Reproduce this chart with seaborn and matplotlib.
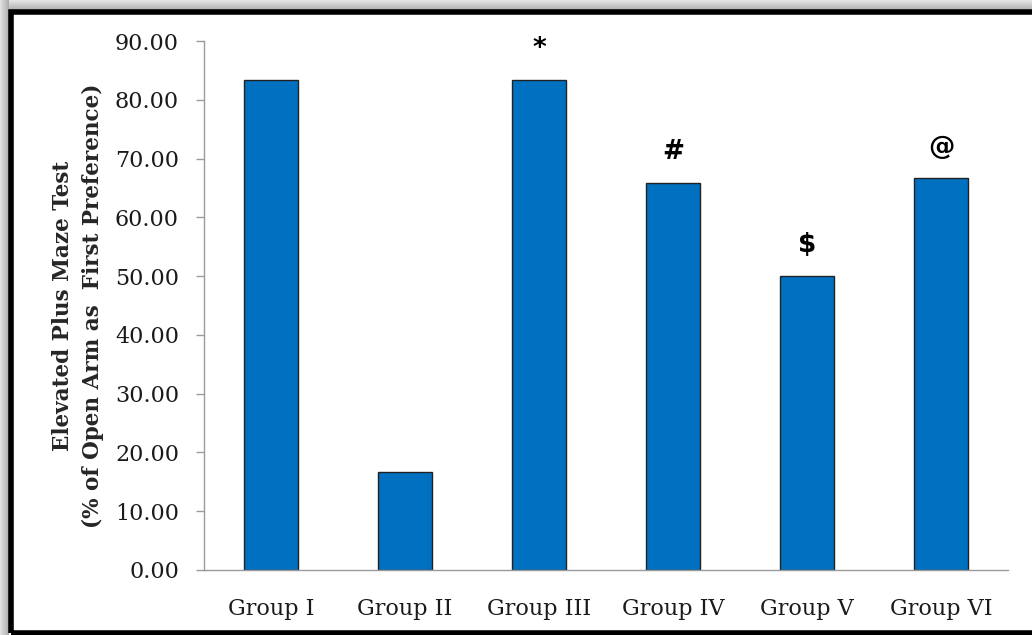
import numpy as np
import pandas as pd
import matplotlib
matplotlib.use("Agg")
import matplotlib.pyplot as plt
from matplotlib.patches import Rectangle
import seaborn as sns

# Data
groups = ["Group I", "Group II", "Group III", "Group IV", "Group V", "Group VI"]
open_arm_pct = [83.33, 16.67, 83.33, 65.83, 50.00, 66.67]
significance = ["", "", "*", "#", "$", "@"]
y_ticks = [0, 10, 20, 30, 40, 50, 60, 70, 80, 90]

df = pd.DataFrame({"group": groups, "pct": open_arm_pct})

sns.set_theme(style="white")
plt.rcParams["font.family"] = ["DejaVu Serif"]

W, H = 1032, 635
fig = plt.figure(figsize=(W / 100, H / 100), dpi=100)
fig.patch.set_facecolor("white")

# Soft grey drop shadow at the left and top edges, plus black frame
bg = fig.add_axes([0, 0, 1, 1], zorder=-10)
img = np.ones((H, W, 3))
xs = np.arange(W)
ys = np.arange(H)
left = np.clip(xs / 9.0, 0, 1)
top = np.clip(ys / 10.0, 0, 1)
shade_x = 0.88 - 0.22 * left
shade_y = 0.90 - 0.22 * top
for j in range(9):
    img[:, j, :] = shade_x[j]
for i in range(10):
    img[i, 9:, :] = shade_y[i]
bg.imshow(img, extent=[0, W, 0, H], origin="upper", aspect="auto")
bg.set_xlim(0, W)
bg.set_ylim(0, H)
bg.axis("off")
bg.add_patch(Rectangle((11, 2.5), W + 20, H - 14.5, fill=False, edgecolor="black", linewidth=4.0))

ax = fig.add_axes([204 / W, 65 / H, (1008 - 204) / W, (594 - 65) / H])
sns.barplot(data=df, x="group", y="pct", color="#0070C0", saturation=1,
            width=0.4, edgecolor="#222222", linewidth=1.0, ax=ax)

ax.set_ylim(0, 90)
ax.set_yticks(y_ticks)
ax.set_yticklabels([f"{v:.2f}" for v in y_ticks])
ax.set_xlim(-0.5, len(groups) - 0.5)

for i, (v, mark) in enumerate(zip(open_arm_pct, significance)):
    if mark:
        ax.annotate(mark, xy=(i, v), xytext=(0, 13), textcoords="offset points",
                    ha="center", va="bottom", fontsize=19, fontweight="bold",
                    family=["DejaVu Sans"], color="black")

for side in ("top", "right"):
    ax.spines[side].set_visible(False)
for side in ("left", "bottom"):
    ax.spines[side].set_color("#9a9a9a")
    ax.spines[side].set_linewidth(1.0)

ax.tick_params(axis="y", which="major", direction="out", length=6, width=1,
               color="#9a9a9a", labelsize=16, pad=12, left=True)
ax.tick_params(axis="x", length=0, labelsize=16, pad=20)
for lab in ax.get_xticklabels() + ax.get_yticklabels():
    lab.set_color("#1a1a1a")

ax.set_xlabel("")
ax.set_ylabel("Elevated Plus Maze Test\n(% of Open Arm as  First Preference)",
              fontsize=15.5, fontweight="bold", linespacing=1.45, labelpad=8)

fig.savefig("out.png", dpi=100)
